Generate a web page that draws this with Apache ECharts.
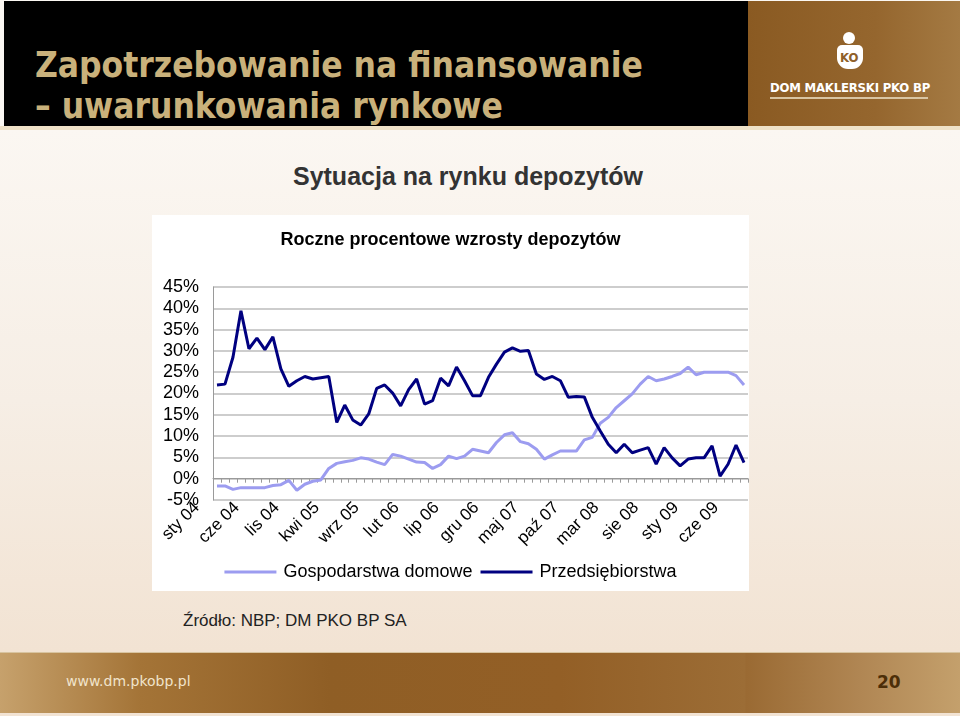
<!DOCTYPE html>
<html>
<head>
<meta charset="utf-8">
<script src="https://cdn.jsdelivr.net/npm/echarts@6/dist/echarts.min.js"></script>
<style>
  html, body { margin: 0; padding: 0; }
  body {
    width: 960px; height: 716px; position: relative; overflow: hidden;
    background: linear-gradient(to bottom, #fbf7f2 130px, #f6eee5 400px, #f2e3d3 650px);
    font-family: "Liberation Sans", Arial, sans-serif;
  }
  #header {
    position: absolute; left: 4px; top: 1px; width: 744px; height: 125px; background: #000;
  }
  #header .t {
    position: absolute; left: 31px; color: #c9b17b; font-family: "DejaVu Sans Condensed", "DejaVu Sans", sans-serif;
    font-weight: bold; font-size: 35px; white-space: nowrap;
  }
  #brand {
    position: absolute; left: 748px; top: 1px; width: 212px; height: 125px;
    background: linear-gradient(to right, #8a5a22, #95662e 60%, #a47a43);
  }
  #brand .head { position: absolute; left: 95px; top: 31px; width: 12px; height: 12px; border-radius: 50%; background: #fff; }
  #brand .body { position: absolute; left: 89px; top: 44px; width: 26px; height: 24px; border-radius: 5px 5px 11px 11px; background: #fff; }
  #brand .body span { position: absolute; left: 3px; top: 5px; font: bold 13px "DejaVu Sans Condensed", sans-serif; color: #8f6029; }
  #brand .name {
    position: absolute; left: 22px; top: 79px; color: #fff; font: bold 13px "DejaVu Sans Condensed", "DejaVu Sans", sans-serif;
    letter-spacing: -0.2px; white-space: nowrap;
  }
  #brand .line { position: absolute; left: 22px; top: 96px; width: 158px; height: 2px; background: #d9c5a3; }
  #sep { position: absolute; left: 0; top: 126px; width: 960px; height: 4px; background: #efe2c8; }
  #sub {
    position: absolute; left: 0; width: 936px; top: 162px; text-align: center; color: #333;
    font: bold 25px "Liberation Sans", Arial, sans-serif;
  }
  #box { position: absolute; left: 152px; top: 215px; width: 597px; height: 376px; background: #fff; }
  #chart { width: 597px; height: 376px; }
  #src {
    position: absolute; left: 183px; top: 611px; color: #222;
    font: 17px "Liberation Sans Narrow", "Liberation Sans", Arial, sans-serif;
  }
  #footer {
    position: absolute; left: 0; top: 652px; width: 960px; height: 60px;
    background: linear-gradient(to right, #c6a16c 0px, #a47437 140px, #8f5e25 330px, #935f26 560px, #9c6d36 745px, #9a6a33 746px, #b08653 860px, #c4a06c 960px);
    border-top: 1px solid #d8c4a0;
  }
  #footer .url { position: absolute; left: 66px; top: 20px; color: #f1e4cb; font: 14px "DejaVu Sans", sans-serif; }
  #footer .pg { position: absolute; left: 877px; top: 19px; color: #4c2e08; font: bold 17px "DejaVu Sans", sans-serif; }
</style>
</head>
<body>
<div id="header">
  <div class="t" style="top:44px">Zapotrzebowanie na finansowanie</div>
  <div class="t" style="top:85px">– uwarunkowania rynkowe</div>
</div>
<div id="brand">
  <div class="head"></div>
  <div class="body"><span>KO</span></div>
  <div class="name">DOM MAKLERSKI PKO BP</div>
  <div class="line"></div>
</div>
<div id="sep"></div>
<div id="sub">Sytuacja na rynku depozytów</div>
<div id="box"><div id="chart"></div></div>
<div id="src">Źródło: NBP; DM PKO BP SA</div>
<div id="footer">
  <div class="url">www.dm.pkobp.pl</div>
  <div class="pg">20</div>
</div>
<script>
// miesiace sty 04 .. lip 09
var months = [
  'sty 04','lut 04','mar 04','kwi 04','maj 04','cze 04','lip 04','sie 04','wrz 04','paź 04','lis 04','gru 04',
  'sty 05','lut 05','mar 05','kwi 05','maj 05','cze 05','lip 05','sie 05','wrz 05','paź 05','lis 05','gru 05',
  'sty 06','lut 06','mar 06','kwi 06','maj 06','cze 06','lip 06','sie 06','wrz 06','paź 06','lis 06','gru 06',
  'sty 07','lut 07','mar 07','kwi 07','maj 07','cze 07','lip 07','sie 07','wrz 07','paź 07','lis 07','gru 07',
  'sty 08','lut 08','mar 08','kwi 08','maj 08','cze 08','lip 08','sie 08','wrz 08','paź 08','lis 08','gru 08',
  'sty 09','lut 09','mar 09','kwi 09','maj 09','cze 09','lip 09'
];

// Gospodarstwa domowe (% r/r)
var households = [
  -1.7, -1.7, -2.5, -2.1, -2.1, -2.1, -2.1, -1.6, -1.4, -0.4, -2.7, -1.3,
  -0.6, -0.3, 2.4, 3.6, 4.0, 4.3, 4.9, 4.6, 3.9, 3.3, 5.7, 5.3,
  4.6, 3.9, 3.8, 2.4, 3.3, 5.3, 4.7, 5.3, 6.9, 6.5, 6.1, 8.5,
  10.3, 10.8, 8.7, 8.2, 6.9, 4.6, 5.6, 6.5, 6.5, 6.5, 9.1, 9.7,
  13.0, 14.4, 16.7, 18.3, 19.9, 22.2, 24.0, 23.0, 23.4, 24.0, 24.7, 26.2,
  24.4, 25.0, 25.0, 25.0, 25.0, 24.2, 22.0
];

// Przedsiebiorstwa (% r/r)
var companies = [
  22.0, 22.2, 28.5, 39.4, 30.5, 33.0, 30.3, 33.3, 25.8, 21.7, 23.0, 24.0,
  23.4, 23.7, 24.0, 13.2, 17.3, 13.8, 12.6, 15.2, 21.2, 22.0, 20.1, 17.1,
  20.9, 23.4, 17.5, 18.3, 23.6, 21.8, 26.2, 23.0, 19.5, 19.5, 23.8, 26.9,
  29.7, 30.7, 29.9, 30.1, 24.6, 23.3, 24.0, 23.0, 19.1, 19.3, 19.2, 14.4,
  11.2, 8.1, 6.1, 8.1, 6.1, 6.7, 7.3, 3.4, 7.3, 4.9, 3.0, 4.6,
  4.9, 4.9, 7.7, 0.6, 3.4, 7.9, 3.8
];

var yTicks = { min: -5, max: 45, step: 5 };

var chart = echarts.init(document.getElementById('chart'));

var option = {
  animation: false,
  textStyle: { fontFamily: '"Liberation Sans", Arial, sans-serif' },
  title: {
    text: 'Roczne procentowe wzrosty depozytów',
    left: 'center',
    top: 11,
    textStyle: { fontSize: 18, fontWeight: 'bold', color: '#000' }
  },
  legend: {
    top: 343,
    left: 'center',
    icon: 'rect',
    itemWidth: 52,
    itemHeight: 3,
    itemGap: 8,
    textStyle: { fontSize: 18, color: '#000', padding: [0, 0, 0, 2] },
    data: ['Gospodarstwa domowe', 'Przedsiębiorstwa']
  },
  grid: [
    { left: 61, top: 72, width: 535, height: 213 },
    // siatka tylko na podpisy osi X (przesunieta jak w Excelu)
    { left: 41, top: 72, width: 535, height: 213 }
  ],
  xAxis: [
    {
      type: 'category', gridIndex: 0, data: months, boundaryGap: true,
      axisLine: { onZero: true, lineStyle: { color: '#9a9a9a', width: 1 } },
      axisTick: { show: true, interval: 0, length: 4, lineStyle: { color: '#9a9a9a' } },
      axisLabel: { show: false },
      splitLine: { show: false }
    },
    {
      type: 'category', gridIndex: 1, data: months, boundaryGap: true,
      axisLine: { show: false, onZero: false },
      axisTick: { show: false },
      axisLabel: { interval: 4, rotate: 45, margin: 5, fontSize: 17, color: '#000' }
    }
  ],
  yAxis: [
    {
      type: 'value', gridIndex: 0, min: yTicks.min, max: yTicks.max, interval: yTicks.step,
      axisLine: { show: true, lineStyle: { color: '#9a9a9a' } },
      axisTick: { show: false },
      axisLabel: { formatter: '{value}%', fontSize: 18, color: '#000', margin: 14 },
      splitLine: { show: true, lineStyle: { color: '#bcbcbc', width: 1.5 } }
    },
    { type: 'value', gridIndex: 1, min: yTicks.min, max: yTicks.max, show: false }
  ],
  series: [
    {
      name: 'Gospodarstwa domowe', type: 'line', xAxisIndex: 0, yAxisIndex: 0,
      data: households, showSymbol: false, symbol: 'none',
      lineStyle: { color: '#9c9cf0', width: 3 }, itemStyle: { color: '#9c9cf0' }
    },
    {
      name: 'Przedsiębiorstwa', type: 'line', xAxisIndex: 0, yAxisIndex: 0,
      data: companies, showSymbol: false, symbol: 'none',
      lineStyle: { color: '#000080', width: 3 }, itemStyle: { color: '#000080' }
    }
  ]
};

chart.setOption(option);
</script>
</body>
</html>
